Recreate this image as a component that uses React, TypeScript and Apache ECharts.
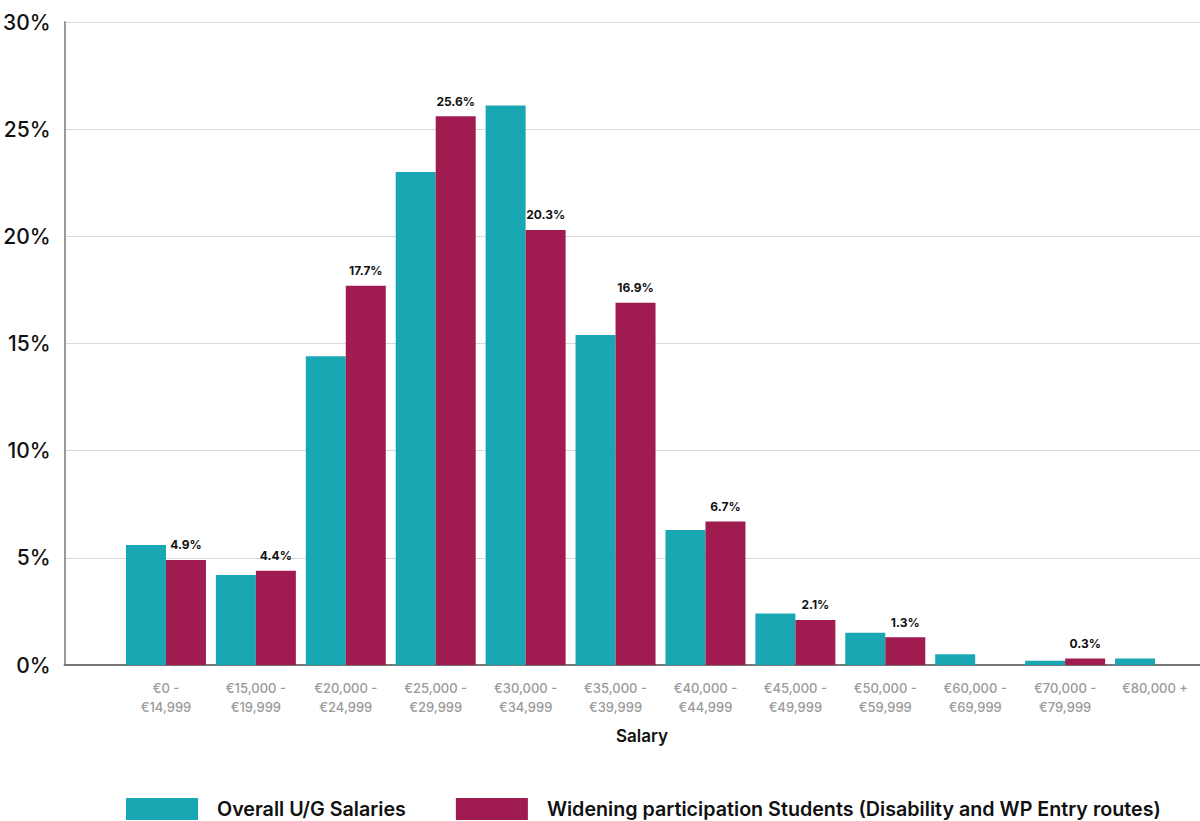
import React, { useEffect, useRef } from "react";
import * as echarts from "echarts";

const categories = [
  "€0 -\n€14,999",
  "€15,000 -\n€19,999",
  "€20,000 -\n€24,999",
  "€25,000 -\n€29,999",
  "€30,000 -\n€34,999",
  "€35,000 -\n€39,999",
  "€40,000 -\n€44,999",
  "€45,000 -\n€49,999",
  "€50,000 -\n€59,999",
  "€60,000 -\n€69,999",
  "€70,000 -\n€79,999",
  "€80,000 +",
];
const overallValues = [5.6, 4.2, 14.4, 23.0, 26.1, 15.4, 6.3, 2.4, 1.5, 0.5, 0.2, 0.3];
const wpValues = [4.9, 4.4, 17.7, 25.6, 20.3, 16.9, 6.7, 2.1, 1.3, null, 0.3, null];
const seriesNames = [
  "Overall U/G Salaries",
  "Widening participation Students (Disability and WP Entry routes)",
];
const yTicks = { min: 0, max: 30, interval: 5 };

const TEAL = "#19A8B3";
const BERRY = "#A01C50";
const FONT = "Inter, 'Noto Sans', sans-serif";

export default function App() {
  const ref = useRef<HTMLDivElement>(null);
  useEffect(() => {
    if (!ref.current) return;
    const chart = echarts.init(ref.current, undefined, { renderer: "svg" });
    chart.setOption({
      animation: false,
      textStyle: { fontFamily: FONT },
      grid: [
        { left: 64, top: 22, width: 1136, height: 643 },
        { left: 121, top: 22, width: 1083, height: 643 },
      ],
      xAxis: [
        {
          type: "value",
          gridIndex: 0,
          min: 0,
          max: 1,
          axisLine: { show: true, lineStyle: { color: "#777", width: 2 } },
          axisTick: { show: false },
          axisLabel: { show: false },
          splitLine: { show: false },
        },
        {
          type: "category",
          gridIndex: 1,
          data: categories,
          axisLine: { show: false },
          axisTick: { show: false },
          axisLabel: {
            color: "#9a9a9a",
            fontSize: 13,
            fontFamily: FONT,
            fontWeight: 500,
            lineHeight: 19,
            margin: 13,
            interval: 0,
          },
        },
      ],
      yAxis: [
        {
          type: "value",
          gridIndex: 0,
          min: yTicks.min,
          max: yTicks.max,
          interval: yTicks.interval,
          axisLine: { show: true, lineStyle: { color: "#999", width: 2 } },
          axisTick: { show: false },
          axisLabel: {
            formatter: "{value}%",
            color: "#111",
            fontSize: 21,
            fontWeight: 500,
            fontFamily: FONT,
            margin: 14,
          },
          splitLine: { show: true, lineStyle: { color: "#d9d9d9", width: 1 } },
        },
        {
          type: "value",
          gridIndex: 1,
          min: yTicks.min,
          max: yTicks.max,
          interval: yTicks.interval,
          show: false,
          splitLine: { show: false },
        },
      ],
      legend: {
        left: 121,
        top: 793,
        itemWidth: 72,
        itemHeight: 22,
        itemGap: 50,
        icon: "rect",
        textStyle: {
          fontSize: 19.7,
          fontWeight: 600,
          color: "#111",
          fontFamily: FONT,
          padding: [0, 0, 0, 14],
        },
        data: seriesNames,
      },
      graphic: [
        {
          type: "text",
          left: 616,
          top: 727,
          style: {
            text: "Salary",
            fontSize: 17,
            fontWeight: 600,
            fill: "#111",
            fontFamily: FONT,
          },
        },
      ],
      series: [
        {
          name: seriesNames[0],
          type: "bar",
          xAxisIndex: 1,
          yAxisIndex: 1,
          data: overallValues,
          barWidth: 40,
          barGap: "0%",
          itemStyle: { color: TEAL },
        },
        {
          name: seriesNames[1],
          type: "bar",
          xAxisIndex: 1,
          yAxisIndex: 1,
          data: wpValues,
          barWidth: 40,
          barGap: "0%",
          itemStyle: { color: BERRY },
          label: {
            show: true,
            position: "top",
            distance: 9,
            formatter: (p: any) => (p.value == null ? "" : p.value.toFixed(1) + "%"),
            fontSize: 12,
            fontWeight: 700,
            color: "#111",
            fontFamily: FONT,
          },
        },
      ],
    });
    return () => chart.dispose();
  }, []);
  return (
    <div
      ref={ref}
      style={{ position: "absolute", left: 0, top: 0, width: 1200, height: 821 }}
    />
  );
}
